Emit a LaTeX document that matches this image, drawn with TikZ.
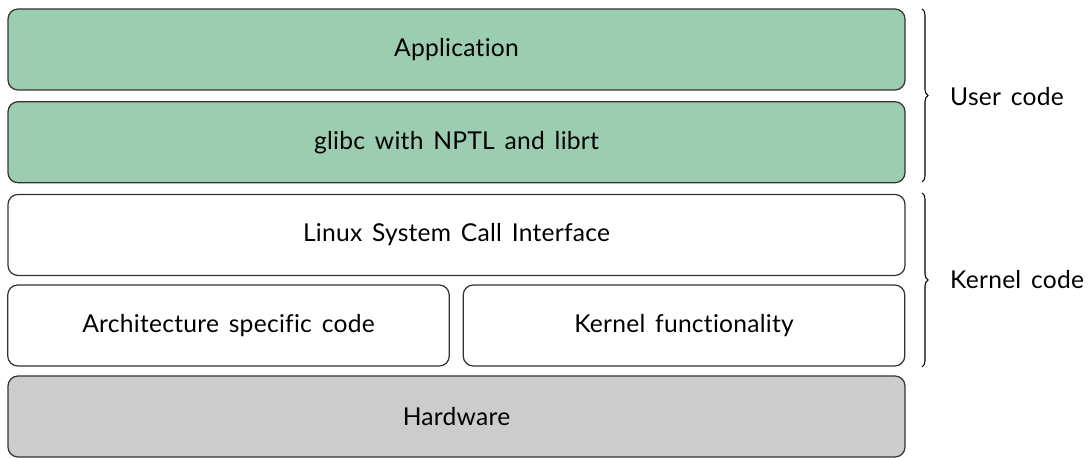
\documentclass[tikz,border=0pt]{standalone}
\usepackage{fontspec}
\setmainfont{Lato}[WordSpace=1.5, LetterSpace=1, Ligatures={NoCommon}]
\usetikzlibrary{positioning,decorations.pathreplacing}
\definecolor{usergreen}{HTML}{9CCDB0}
\definecolor{hwgray}{HTML}{CCCCCC}
\definecolor{edgegray}{HTML}{333333}
\tikzset{
	layer/.style={draw=edgegray, line width=0.7pt, rounded corners=0.2cm, minimum height=1.62cm, font=\fontsize{14}{16}\selectfont},
	fulllayer/.style={layer, minimum width=17.94cm},
	halflayer/.style={layer, minimum width=8.83cm},
	codebrace/.style={decorate, decoration={brace, amplitude=0.12cm}, line width=0.6pt},
	bracelabel/.style={anchor=west, font=\fontsize{14}{16}\selectfont}
}

\begin{document}
\begin{tikzpicture}
		%%%%% START %%%%%
		\useasboundingbox (0, 0) rectangle (21.8, 9.16);
		
		\node[fulllayer, fill=usergreen] (app) at (9.13, 8.17) {Application};
		\node[fulllayer, fill=usergreen, below=0.21cm of app] (glibc) {glibc with NPTL and librt};
		\node[fulllayer, fill=white, below=0.21cm of glibc] (syscall) {Linux System Call Interface};
		
		\node[halflayer, fill=white] (arch) at (4.57, 2.65) {Architecture specific code};
		\node[halflayer, fill=white] (kfunc) at (13.68, 2.65) {Kernel functionality};
		
		\node[fulllayer, fill=hwgray] (hw) at (9.13, 0.83) {Hardware};
		
		\coordinate (usertop) at (18.44, 8.98);
		\coordinate (userbot) at (18.44, 5.52);
		\coordinate (kerneltop) at (18.44, 5.3);
		\coordinate (kernelbot) at (18.44, 1.82);
		
		\draw[codebrace] (usertop) -- (userbot);
		\draw[codebrace] (kerneltop) -- (kernelbot);
		
		\node[bracelabel] (user) at (18.88, 7.22) {User code};
		\node[bracelabel] (kernel) at (18.88, 3.56) {Kernel code};
		%%%%% END %%%%%
	\end{tikzpicture}
\end{document}
